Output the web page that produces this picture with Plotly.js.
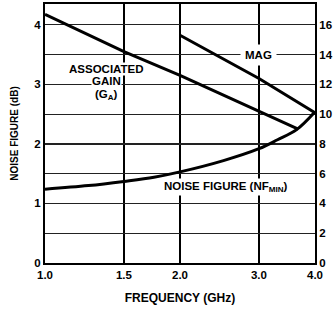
<!DOCTYPE html>
<html>
<head>
<meta charset="utf-8">
<script src="https://cdn.plot.ly/plotly-3.0.1.min.js"></script>
<style>html,body{margin:0;padding:0;background:#fff;}#chart{width:334px;height:312px;}</style>
</head>
<body>
<div id="chart"></div>
<script>
// Frequency (GHz) ticks
const freqTicks = [1.0, 1.5, 2.0, 3.0, 4.0];
const freqTickText = ["1.0", "1.5", "2.0", "3.0", "4.0"];
// Noise figure NFmin (dB)
const nfFreq = [1.0, 1.25, 1.5, 1.75, 2.0, 2.5, 3.0, 3.3, 3.64, 4.0];
const nfMin  = [1.24, 1.30, 1.37, 1.44, 1.53, 1.72, 1.92, 2.07, 2.24, 2.54];
// Associated gain GA (dB)
const gaFreq = [1.0, 1.5, 2.0, 3.0, 3.67];
const gaGain = [16.7, 14.2, 12.6, 10.2, 9.0];
// Maximum available gain MAG (dB)
const magFreq = [2.0, 3.0, 4.0];
const magGain = [15.3, 12.4, 10.1];

const F = "Arial, 'Liberation Sans', sans-serif";
const lineStyle = {color: "#000", width: 3};
const lblFont = {family: F, size: 11.5, weight: "bold", color: "#000"};

const data = [
  {x: nfFreq, y: nfMin, type: "scatter", mode: "lines", line: {...lineStyle, shape: "spline"}, yaxis: "y", hoverinfo: "skip"},
  {x: gaFreq, y: gaGain, type: "scatter", mode: "lines", line: lineStyle, yaxis: "y2", hoverinfo: "skip"},
  {x: magFreq, y: magGain, type: "scatter", mode: "lines", line: lineStyle, yaxis: "y2", hoverinfo: "skip"}
];

const layout = {
  width: 334, height: 312,
  margin: {l: 45, r: 19, t: 4, b: 49},
  paper_bgcolor: "#fff", plot_bgcolor: "#fff",
  showlegend: false,
  font: {family: F, color: "#000", size: 11},
  xaxis: {
    type: "log", range: [0, Math.log10(4)],
    tickvals: freqTicks, ticktext: freqTickText,
    showgrid: true, gridcolor: "#000", gridwidth: 2,
    showline: true, linecolor: "#000", linewidth: 2, mirror: true,
    ticks: "", tickfont: {family: F, size: 11.5, weight: "bold"},
    title: {text: "FREQUENCY (GHz)", font: {family: F, size: 12, weight: "bold"}, standoff: 14},
    zeroline: false, fixedrange: true
  },
  yaxis: {
    range: [0, 4.35], tickvals: [0, 1, 2, 3, 4],
    showgrid: false, showline: true, linecolor: "#000", linewidth: 2,
    ticks: "", tickfont: {family: F, size: 11.5, weight: "bold"},
    title: {text: "NOISE FIGURE (dB)", font: {family: F, size: 10, weight: "bold"}, standoff: 14},
    zeroline: false, fixedrange: true
  },
  yaxis2: {
    overlaying: "y", side: "right",
    range: [0, 17.4], tickvals: [0, 2, 4, 6, 8, 10, 12, 14, 16],
    showgrid: true, gridcolor: "#222", gridwidth: 1.3,
    showline: true, linecolor: "#000", linewidth: 2,
    ticks: "", ticklen: 0, tickfont: {family: F, size: 11.5, weight: "bold"},
    zeroline: false, fixedrange: true
  },
  annotations: [
    {x: Math.log10(1.37), y: 3.26, xref: "x", yref: "y", showarrow: false,
     text: "ASSOCIATED", bgcolor: "#fff", borderpad: 0, font: lblFont},
    {x: Math.log10(1.37), y: 3.05, xref: "x", yref: "y", showarrow: false,
     text: "GAIN", bgcolor: "#fff", borderpad: 0, font: lblFont},
    {x: Math.log10(1.37), y: 2.82, xref: "x", yref: "y", showarrow: false,
     text: "(G<sub>A</sub>)", bgcolor: "#fff", borderpad: 0, font: lblFont},
    {x: Math.log10(3.0), y: 14, xref: "x", yref: "y2", showarrow: false,
     text: "MAG", bgcolor: "#fff", borderpad: 4, font: lblFont},
    {x: Math.log10(2.53), y: 1.28, xref: "x", yref: "y", showarrow: false,
     text: "NOISE FIGURE (NF<sub>MIN</sub>)", bgcolor: "#fff", borderpad: 1, font: lblFont}
  ]
};

Plotly.newPlot("chart", data, layout, {displayModeBar: false, staticPlot: true});
</script>
</body>
</html>
